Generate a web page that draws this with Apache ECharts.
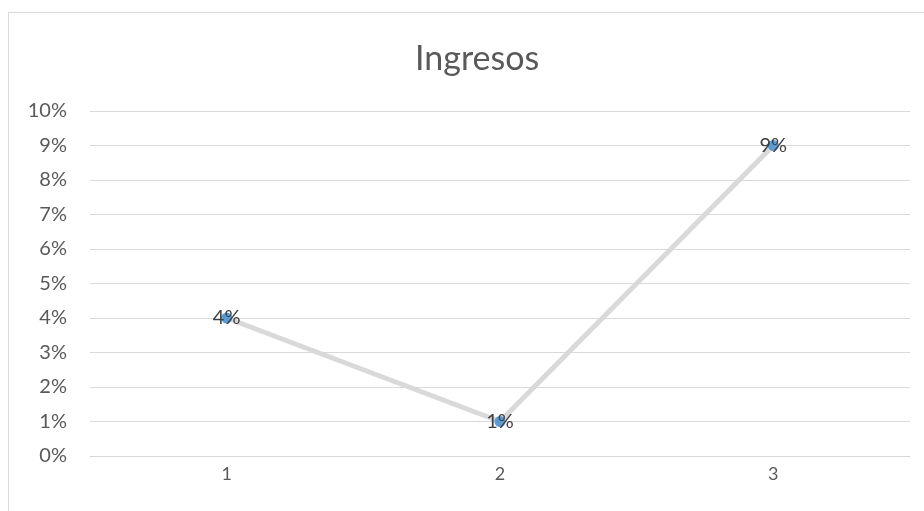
<!DOCTYPE html>
<html>
<head>
<meta charset="utf-8">
<script src="https://cdn.jsdelivr.net/npm/echarts@6/dist/echarts.min.js"></script>
<style>
  html, body { margin: 0; padding: 0; background: #fff; }
  #chart { width: 924px; height: 511px; }
</style>
</head>
<body>
<div id="chart"></div>
<script>
// Income change per period
const categories = ['1', '2', '3'];
const ingresos = [0.04, 0.01, 0.09];
const yTicks = { min: 0, max: 0.10, interval: 0.01 };

const pct = v => Math.round(v * 100) + '%';
const font = 'Lato, "Open Sans", sans-serif';

const chart = echarts.init(document.getElementById('chart'));
chart.setOption({
  animation: false,
  backgroundColor: '#ffffff',
  title: {
    text: 'Ingresos',
    left: 410,
    top: 37,
    textStyle: { fontFamily: font, fontSize: 34, fontWeight: 'normal', color: '#595959' }
  },
  graphic: [{
    type: 'rect',
    shape: { x: 8.5, y: 12.5, width: 940, height: 520 },
    style: { fill: 'none', stroke: '#d9d9d9', lineWidth: 1 },
    silent: true
  }],
  grid: { left: 90, right: 14, top: 111, bottom: 55 },
  xAxis: {
    type: 'category',
    data: categories,
    boundaryGap: true,
    axisLine: { lineStyle: { color: '#d9d9d9', width: 1 } },
    axisTick: { show: false },
    axisLabel: { color: '#595959', fontFamily: font, fontSize: 18, margin: 9 }
  },
  yAxis: {
    type: 'value',
    min: yTicks.min,
    max: yTicks.max,
    interval: yTicks.interval,
    axisLine: { show: false },
    axisTick: { show: false },
    splitLine: { lineStyle: { color: '#d9d9d9', width: 1 } },
    axisLabel: { color: '#595959', fontFamily: font, fontSize: 20, margin: 23, formatter: pct }
  },
  series: [{
    type: 'line',
    data: ingresos,
    symbol: 'circle',
    symbolSize: 11,
    itemStyle: { color: '#5b9bd5' },
    lineStyle: { color: '#d9d9d9', width: 5, cap: 'round' },
    z: 3,
    label: {
      show: true,
      position: 'inside',
      formatter: p => pct(p.value),
      color: '#404040',
      fontFamily: font,
      fontSize: 20
    }
  }]
});
</script>
</body>
</html>
